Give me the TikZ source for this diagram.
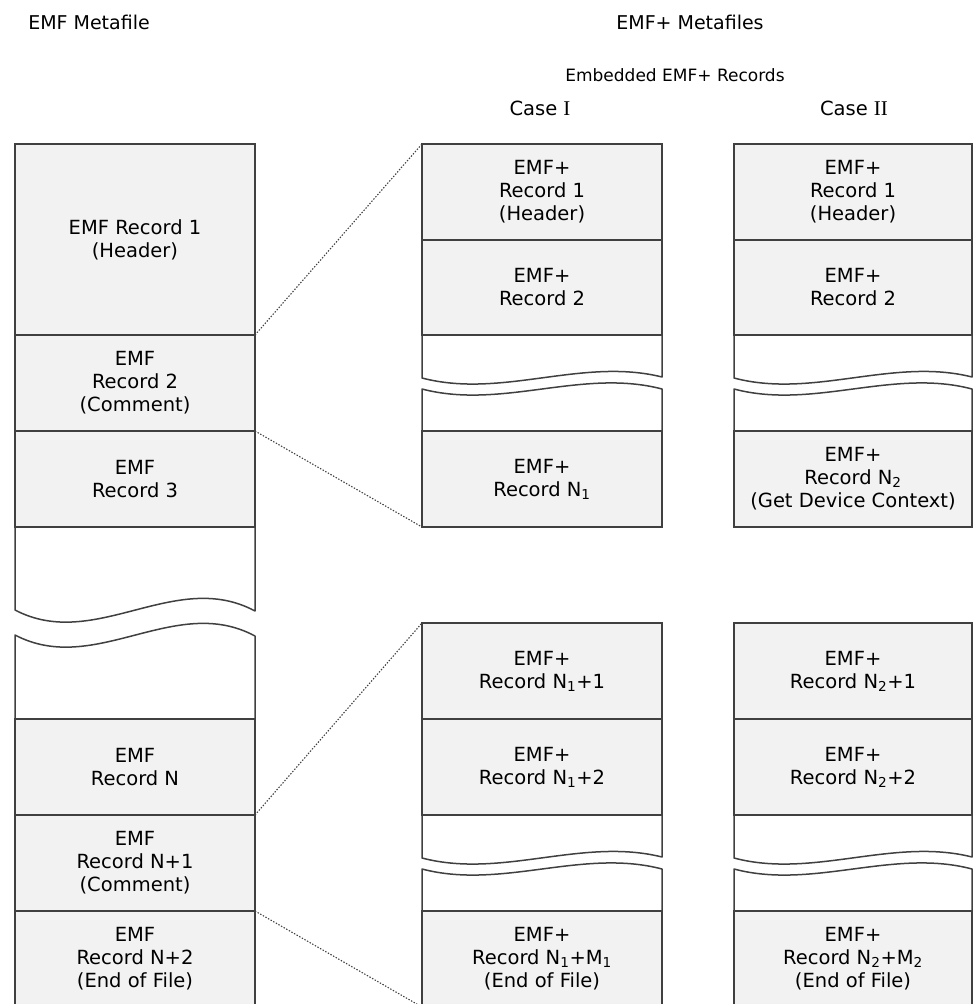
\documentclass[tikz,border=0pt]{standalone}
\usepackage{fontspec}
\setmainfont{DejaVu Sans}
\newfontfamily\romanfont{Liberation Serif}
\definecolor{linec}{HTML}{404040}
\definecolor{recfill}{HTML}{F2F2F2}
\newcommand{\bodyfont}{\fontsize{19.5}{23}\selectfont}
\newcommand{\titlefont}{\fontsize{19}{22}\selectfont}
\newcommand{\subfont}{\fontsize{17}{20}\selectfont}
\newcommand{\casefont}{\fontsize{19.5}{22}\selectfont}
\begin{document}
\begin{tikzpicture}[x=1pt,y=-1pt,
  rec/.style={draw=linec, fill=recfill, line width=1.4pt, rectangle, inner sep=0pt, outer sep=0pt,
    minimum height=96pt, align=center, font=\bodyfont},
  wl/.style={rec, minimum width=240pt},
  wr/.style={rec, minimum width=238pt},
  brk/.style={draw=linec, fill=white, line width=1.5pt, line join=round},
  link/.style={draw=linec, line width=1.1pt, dash pattern=on 1.4pt off 1.6pt},
  ttl/.style={font=\titlefont, inner sep=0pt},
  sub/.style={font=\subfont, inner sep=0pt},
  cas/.style={font=\casefont, inner sep=0pt}]
\useasboundingbox (0,0) rectangle (974,1004);
\clip (0,0) rectangle (974,1004);
% titles
\node[ttl] (t1) at (89,22) {EMF Metafile};
\node[ttl] (t2) at (690,22) {EMF+ Metafiles};
\node[sub] (t3) at (675,75) {Embedded EMF+ Records};
\node[cas] (t4) at (540,108) {Case {\romanfont\fontsize{21}{21}\selectfont I}};
\node[cas] (t5) at (854,108) {Case {\romanfont\fontsize{21}{21}\selectfont II}};
% break pieces (drawn first, boxes on top)
\draw[brk] (15,527) -- (15,610) .. controls (95,652) and (175,568) .. (255,611) -- (255,527);
\draw[brk] (15,719) -- (15,635) .. controls (95,677) and (175,593) .. (255,636) -- (255,719);
\draw[brk] (422,335) -- (422,378) .. controls (502,399) and (582,357) .. (662,377) -- (662,335);
\draw[brk] (422,431) -- (422,389) .. controls (502,410) and (582,368) .. (662,389) -- (662,431);
\draw[brk] (422,815) -- (422,858) .. controls (502,879) and (582,837) .. (662,857) -- (662,815);
\draw[brk] (422,911) -- (422,869) .. controls (502,890) and (582,848) .. (662,869) -- (662,911);
\draw[brk] (734,335) -- (734,378) .. controls (813,399) and (893,357) .. (972,377) -- (972,335);
\draw[brk] (734,431) -- (734,389) .. controls (813,410) and (893,368) .. (972,389) -- (972,431);
\draw[brk] (734,815) -- (734,858) .. controls (813,879) and (893,837) .. (972,857) -- (972,815);
\draw[brk] (734,911) -- (734,869) .. controls (813,890) and (893,848) .. (972,869) -- (972,911);
% left column
\node[wl, minimum height=191pt] (L1) at (135,239.5) {EMF Record 1\\(Header)};
\node[wl] (L2) at (135,383) {EMF\\Record 2\\(Comment)};
\node[wl] (L3) at (135,479) {EMF\\Record 3};
\node[wl] (LN) at (135,767) {EMF\\Record N};
\node[wl] (LN1) at (135,863) {EMF\\Record N+1\\(Comment)};
\node[wl] (LN2) at (135,959) {EMF\\Record N+2\\(End of File)};
% middle column
\node[wl] (A1) at (542,192) {EMF+\\Record 1\\(Header)};
\node[wl, minimum height=95pt] (A2) at (542,287.5) {EMF+\\Record 2};
\node[wl] (A3) at (542,479) {EMF+\\Record N\textsubscript{1}};
\node[wl] (A4) at (542,671) {EMF+\\Record N\textsubscript{1}+1};
\node[wl] (A5) at (542,767) {EMF+\\Record N\textsubscript{1}+2};
\node[wl] (A6) at (542,959) {EMF+\\Record N\textsubscript{1}+M\textsubscript{1}\\(End of File)};
% right column
\node[wr] (B1) at (853,192) {EMF+\\Record 1\\(Header)};
\node[wr, minimum height=95pt] (B2) at (853,287.5) {EMF+\\Record 2};
\node[wr] (B3) at (853,479) {EMF+\\Record N\textsubscript{2}\\(Get Device Context)};
\node[wr] (B4) at (853,671) {EMF+\\Record N\textsubscript{2}+1};
\node[wr] (B5) at (853,767) {EMF+\\Record N\textsubscript{2}+2};
\node[wr] (B6) at (853,959) {EMF+\\Record N\textsubscript{2}+M\textsubscript{2}\\(End of File)};
% connectors
\draw[link] (L1.south east) -- (A1.north west);
\draw[link] (L3.north east) -- (A3.south west);
\draw[link] (LN.south east) -- (A4.north west);
\draw[link] (LN2.north east) -- (A6.south west);
\end{tikzpicture}
\end{document}
